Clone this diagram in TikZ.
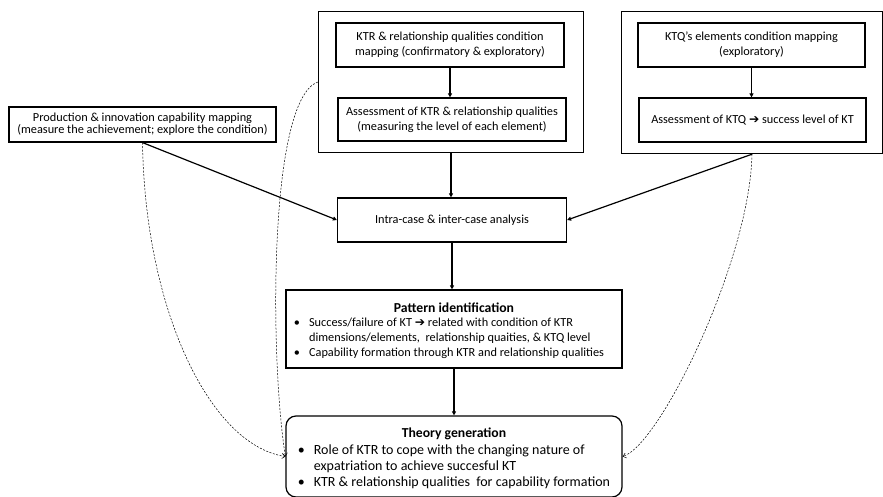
\documentclass[tikz,border=0pt]{standalone}
\usepackage{fontspec}
\setmainfont{Carlito}
\newfontfamily\arrowfont{DejaVu Sans}
\usetikzlibrary{arrows.meta,positioning,fit,calc}
\newcommand{\ktarrow}{{\arrowfont\char"2794}}
\tikzset{
    mapbox/.style={draw, line width=1.2pt, align=center, inner sep=2pt,
                   font=\fontsize{12.3}{15}\selectfont},
    groupbox/.style={draw, line width=1.2pt, inner xsep=17pt, inner ysep=11pt},
    flow/.style={line width=1.2pt, -{Triangle[length=4pt,width=4pt]}},
    feedback/.style={line width=0.5pt, dash pattern=on 2pt off 1.5pt,
                     -{Straight Barb[length=3pt,width=5pt]}}
}

\begin{document}
\begin{tikzpicture}[x=1pt,y=-1pt]
    \useasboundingbox (0,0) rectangle (883,497);
    \node[mapbox, minimum width=228pt, minimum height=44pt] (ktr1) at (450,45)
        {KTR \& relationship qualities condition\\mapping (confirmatory \& exploratory)};
    \node[mapbox, minimum width=228pt, minimum height=43pt] (ktr2) at (452,119.5)
        {Assessment of KTR \& relationship qualities\\(measuring the level of each element)};
    \node[groupbox, fit=(ktr1)(ktr2)] (ktrgroup) {};
    \node[mapbox, minimum width=227pt, minimum height=44pt] (ktq1) at (751.5,45)
        {KTQ’s elements condition mapping\\(exploratory)};
    \node[mapbox, minimum width=227pt, minimum height=44pt] (ktq2) at (752.5,120)
        {Assessment of KTQ \ktarrow{} success level of KT};
    \node[groupbox, inner xsep=16pt, fit=(ktq1)(ktq2)] (ktqgroup) {};
    \node[mapbox, minimum width=267pt, minimum height=35pt,
          font=\fontsize{12.3}{10.5}\selectfont] (prod) at (142.5,124.5)
        {Production \& innovation capability mapping\\(measure the achievement; explore the condition)};
    \node[mapbox, minimum width=229pt, minimum height=44pt] (intra) at (452,220)
        {Intra-case \& inter-case analysis};
    \node[mapbox, minimum width=336pt, minimum height=78pt] (pattern) at (454,329)
        {\rule{0pt}{16pt}\textbf{\fontsize{13.7}{15}\selectfont Pattern identification}\\[2pt]
         \begin{tabular}{@{}l@{\hspace{9pt}}l@{\hspace{10pt}}}
         \textbullet & Success/failure of KT \ktarrow{} related with condition of KTR\\
                     & dimensions/elements,\ \ relationship quaities, \& KTQ level\\
         \textbullet & Capability formation through KTR and relationship qualities
         \end{tabular}};
    \node[mapbox, rounded corners=10pt, minimum width=336pt, minimum height=81pt,
          font=\fontsize{14}{16}\selectfont] (theory) at (454,456.5)
        {\rule{0pt}{16pt}\textbf{\fontsize{13.7}{16}\selectfont Theory generation}\\[3pt]
         \begin{tabular}{@{}l@{\hspace{9pt}}l@{}}
         \textbullet & Role of KTR to cope with the changing nature of\\
                     & expatriation to achieve succesful KT\\
         \textbullet & KTR \& relationship qualities\ \ for capability formation
         \end{tabular}};

    \draw[flow] (ktr1.south) -- (ktr1.south |- ktr2.north);
    \draw[flow] (ktq1.south) -- (ktq1.south |- ktq2.north);
    \draw[flow] (ktrgroup.south) -- (ktrgroup.south |- intra.north);
    \draw[flow] (prod.south) -- (intra.west);
    \draw[flow] (ktqgroup.south) -- (intra.east);
    \draw[flow] (intra.south) -- (intra.south |- pattern.north);
    \draw[flow] (pattern.south) -- (theory.north);
    \draw[feedback] (prod.south) .. controls (145,310) and (210,445) .. (theory.west);
    \draw[feedback] (ktrgroup.west) .. controls (268,100) and (270,360) .. (theory.west);
    \draw[feedback] (ktqgroup.south) .. controls (750,260) and (660,445) .. (theory.east);
\end{tikzpicture}
\end{document}
